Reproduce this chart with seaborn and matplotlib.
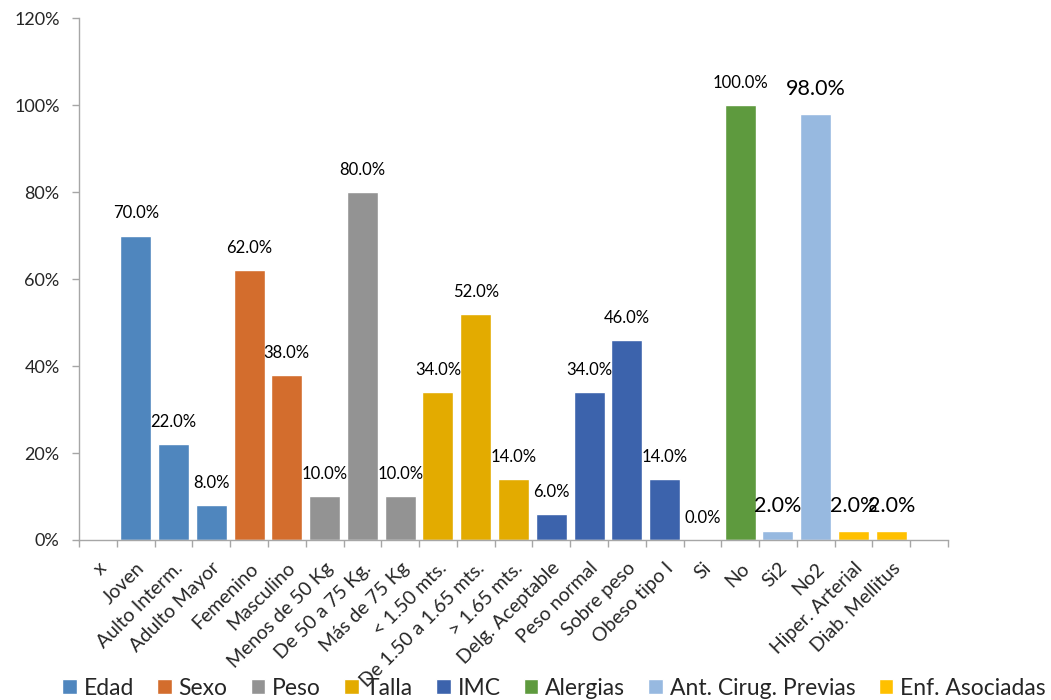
import numpy as np
import pandas as pd
import matplotlib
matplotlib.use("Agg")
import matplotlib.pyplot as plt
from matplotlib.ticker import FixedLocator, FuncFormatter
import seaborn as sns

categories = ["x", "Joven", "Aulto Interm.", "Adulto Mayor", "Femenino", "Masculino",
              "Menos de 50 Kg", "De 50 a 75 Kg.", "Más de 75 Kg", "< 1.50 mts.",
              "De 1.50 a 1.65 mts.", "> 1.65 mts.", "Delg. Aceptable", "Peso normal",
              "Sobre peso", "Obeso tipo I", "Si", "No", "Si2", "No2",
              "Hiper. Arterial", "Diab. Mellitus"]
values = [np.nan, 70, 22, 8, 62, 38, 10, 80, 10, 34, 52, 14, 6, 34, 46, 14,
          0, 100, 2, 98, 2, 2]
series = (["Edad"] * 4 + ["Sexo"] * 2 + ["Peso"] * 3 + ["Talla"] * 3 + ["IMC"] * 4
          + ["Alergias"] * 2 + ["Ant. Cirug. Previas"] * 2 + ["Enf. Asociadas"] * 2)
series_names = ["Edad", "Sexo", "Peso", "Talla", "IMC", "Alergias",
                "Ant. Cirug. Previas", "Enf. Asociadas"]
series_colors = ["#4F86BE", "#D36D2D", "#939393", "#E3AB00", "#3C63AC",
                 "#5E9A3E", "#97B9E0", "#FFC000"]
big_label_series = ["Ant. Cirug. Previas", "Enf. Asociadas"]

sns.set_style("white")
plt.rcParams["font.family"] = ["Lato", "DejaVu Sans"]

df = pd.DataFrame({"categoria": categories, "valor": values, "serie": series})
plot_df = df.dropna(subset=["valor"])

fig = plt.figure(figsize=(10.51, 7.0), dpi=100)
ax = fig.add_axes([0.0752, 0.2286, 0.8268, 0.7454])

sns.barplot(data=plot_df, x="categoria", y="valor", hue="serie", order=categories,
            hue_order=series_names, palette=dict(zip(series_names, series_colors)),
            dodge=False, width=0.82, saturation=1, ax=ax)

n = len(categories)
ax.set_xlim(-0.5, n + 0.5)
ax.set_ylim(0, 120)
ax.set_xlabel("")
ax.set_ylabel("")

# value labels above each bar
for i, (v, s) in enumerate(zip(values, series)):
    if np.isnan(v):
        continue
    big = s in big_label_series
    ax.annotate(f"{v:.1f}%", xy=(i, v), xytext=(0, 18 if big else 16),
                textcoords="offset points", ha="center", va="center",
                fontsize=15.5 if big else 12, color="black")

# axes styling
for side in ["top", "right"]:
    ax.spines[side].set_visible(False)
for side in ["left", "bottom"]:
    ax.spines[side].set_color("#A6A6A6")
    ax.spines[side].set_linewidth(1)

ax.yaxis.set_major_locator(FixedLocator(np.arange(0, 121, 20)))
ax.yaxis.set_major_formatter(FuncFormatter(lambda v, p: f"{v:.0f}%"))
ax.tick_params(axis="y", which="major", left=True, length=5, width=1,
               color="#A6A6A6", labelsize=13, pad=9)

ax.set_xticks(range(n))
ax.set_xticklabels(categories, rotation=45, ha="right", rotation_mode="anchor",
                   fontsize=14)
ax.tick_params(axis="x", which="major", bottom=False, length=0, pad=14)
ax.set_xticks(np.arange(-0.5, n + 0.6, 1), minor=True)
ax.tick_params(axis="x", which="minor", bottom=True, length=5, width=1,
               color="#A6A6A6")

sns.move_legend(ax, "lower center", bbox_to_anchor=(0.527, -0.018), ncol=8,
                frameon=False, title=None, fontsize=16.5, handlelength=0.65,
                handleheight=0.65, handletextpad=0.3, columnspacing=1.0,
                bbox_transform=fig.transFigure, borderaxespad=0.2)

fig.savefig("out.png", dpi=100)
